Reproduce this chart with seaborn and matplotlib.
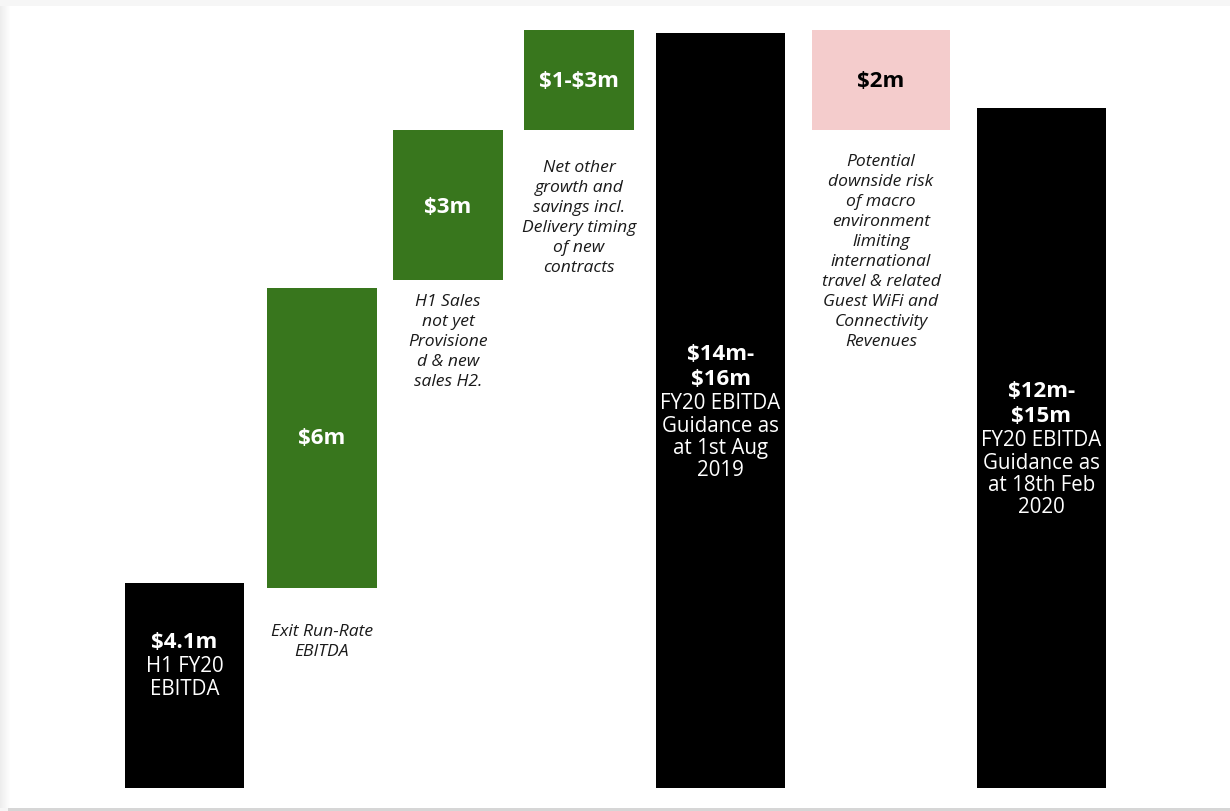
import matplotlib
matplotlib.use("Agg")
import matplotlib.pyplot as plt
from matplotlib.patches import Rectangle
import seaborn as sns

# --- data -------------------------------------------------------------
steps = ["H1 FY20 EBITDA", "Exit run-rate", "H1 sales", "Net other growth",
         "Guidance Aug 2019", "Macro downside", "Guidance Feb 2020"]
bases = [0.0, 4.0, 10.15, 13.15, 0.0, 13.15, 0.0]
amounts = [4.1, 6.0, 3.0, 2.0, 15.1, 2.0, 13.6]
value_labels = [["$4.1m"], ["$6m"], ["$3m"], ["$1-$3m"],
                ["$14m-", "$16m"], ["$2m"], ["$12m-", "$15m"]]
sub_labels = [["H1 FY20", "EBITDA"], [], [], [],
              ["FY20 EBITDA", "Guidance as", "at 1st Aug", "2019"], [],
              ["FY20 EBITDA", "Guidance as", "at 18th Feb", "2020"]]
notes = [[], ["Exit Run-Rate", "EBITDA"],
         ["H1 Sales", "not yet", "Provisione", "d & new", "sales H2."],
         ["Net other", "growth and", "savings incl.", "Delivery timing", "of new", "contracts"],
         [],
         ["Potential", "downside risk", "of macro", "environment", "limiting",
          "international", "travel & related", "Guest WiFi and", "Connectivity", "Revenues"],
         []]

# --- style ------------------------------------------------------------
GREEN = "#38761d"
PINK = "#f4cccc"
BLACK = "#000000"
bar_colors = [BLACK, GREEN, GREEN, GREEN, BLACK, PINK, BLACK]
label_colors = ["white", "white", "white", "white", "white", "black", "white"]

# horizontal layout of the bars (figure pixels)
bar_left = [125, 267, 393, 524, 656, 812, 977]
bar_width = [119, 110, 110, 110, 129, 138, 129]

sns.set_theme(style="white")
plt.rcParams["font.family"] = ["Open Sans", "DejaVu Sans"]

W, H, DPI = 1230, 811, 100
fig = plt.figure(figsize=(W / DPI, H / DPI), dpi=DPI)
fig.patch.set_facecolor("#f6f6f6")

# white card with a soft left shadow and a thin bottom rule
for i in range(10):
    g = 0.93 + 0.007 * i
    fig.add_artist(Rectangle((i / W, 3 / H), 1 / W, (H - 9) / H,
                             transform=fig.transFigure, color=(g, g, g), lw=0, zorder=0))
fig.add_artist(Rectangle((10 / W, 3 / H), 1, (H - 9) / H,
                         transform=fig.transFigure, color="white", lw=0, zorder=0))
fig.add_artist(Rectangle((8 / W, 0), 1, 3 / H,
                         transform=fig.transFigure, color="#d6d6d6", lw=0, zorder=0))

ax = fig.add_axes([0, 0, 1, 1])
ax.set_facecolor("none")

sns.barplot(x=steps, y=amounts, hue=steps, palette=bar_colors, order=steps,
            hue_order=steps, legend=False, dodge=False, ax=ax,
            linewidth=0, saturation=1, errorbar=None)

# floating bars: lift each bar onto its base and set its footprint
for patch, b, left, w in zip(ax.patches, bases, bar_left, bar_width):
    patch.set_y(b)
    patch.set_x(left)
    patch.set_width(w)
    patch.set_linewidth(0)

PX = 50.0          # pixels per $1m
ZERO = 788         # pixel row of the baseline
ax.set_xlim(0, W)
ax.set_ylim((ZERO - H) / PX, ZERO / PX)
ax.axis("off")


def row(py):
    return (ZERO - py) / PX


def centre(i):
    return bar_left[i] + bar_width[i] / 2


# in-bar labels: bold value lines followed by regular description lines
label_start = [641, 437, 206, 80, 353, 80, 390]
for i in range(len(steps)):
    y = label_start[i] + 2
    for t in value_labels[i]:
        ax.text(centre(i), row(y), t, ha="center", va="center", fontsize=16,
                fontweight="bold", color=label_colors[i], parse_math=False)
        y += 25
    y -= 1
    for t in sub_labels[i]:
        ax.text(centre(i), row(y), t, ha="center", va="center", fontsize=14.8,
                color=label_colors[i], parse_math=False)
        y += 22.3

# italic notes beneath the movement bars
note_start = [0, 630, 300, 166, 0, 160, 0]
for i in range(len(steps)):
    for k, t in enumerate(notes[i]):
        ax.text(centre(i), row(note_start[i] + 20 * k + 2), t, ha="center",
                va="center", fontsize=12.6, fontstyle="italic", color="#1a1a1a",
                parse_math=False)

fig.savefig("out.png", dpi=DPI, facecolor=fig.get_facecolor())
